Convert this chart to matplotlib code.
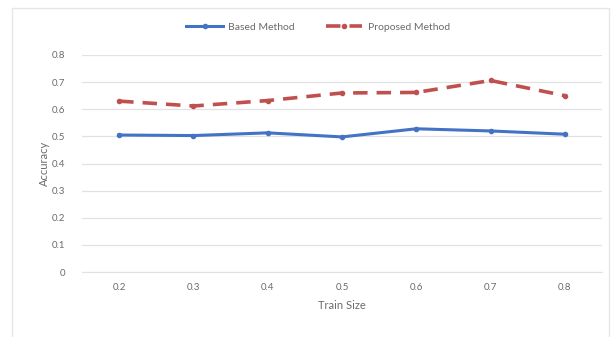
import matplotlib
matplotlib.use("Agg")
import matplotlib.pyplot as plt
from matplotlib.patches import Rectangle

plt.rcParams['font.family'] = ['Lato', 'DejaVu Sans']

train_sizes = ["0.2", "0.3", "0.4", "0.5", "0.6", "0.7", "0.8"]
based_method = [0.505, 0.503, 0.513, 0.498, 0.528, 0.520, 0.508]
proposed_method = [0.630, 0.612, 0.632, 0.660, 0.662, 0.706, 0.650]
y_ticks = [0, 0.1, 0.2, 0.3, 0.4, 0.5, 0.6, 0.7, 0.8]
y_tick_labels = ["0", "0.1", "0.2", "0.3", "0.4", "0.5", "0.6", "0.7", "0.8"]

text_color = "#6b6b6b"
grid_color = "#e2e2e2"

fig = plt.figure(figsize=(6.15, 3.37), dpi=100)
fig.patch.set_facecolor("white")

# light chart-area border
fig.patches.append(Rectangle((12 / 615, -0.05), (609 - 12) / 615, 1 - 8 / 337 + 0.05,
                             transform=fig.transFigure, fill=False,
                             edgecolor="#e6e6e6", linewidth=1.0))

ax = fig.add_axes([82 / 615, 1 - 272 / 337, (602 - 82) / 615, (272 - 55) / 337])
x = list(range(len(train_sizes)))

ax.plot(x, based_method, color="#4472c4", linewidth=2.2, marker="o",
        markersize=3, label="Based Method", zorder=3)
ax.plot(x, proposed_method, color="#c0504d", linewidth=2.6, linestyle=(0, (4, 2.5)),
        marker="o", markersize=3, label="Proposed Method", zorder=3)

ax.set_xlim(-0.5, len(train_sizes) - 0.5)
ax.set_ylim(0, 0.8)
ax.set_xticks(x)
ax.set_xticklabels(train_sizes)
ax.set_yticks(y_ticks)
ax.set_yticklabels(y_tick_labels)
ax.yaxis.grid(True, color=grid_color, linewidth=0.9)
ax.set_axisbelow(True)
for side in ["top", "right", "left"]:
    ax.spines[side].set_visible(False)
ax.spines["bottom"].set_color(grid_color)
ax.tick_params(axis="both", length=0, labelsize=7, colors=text_color, pad=8)
ax.tick_params(axis="y", pad=12)

ax.set_xlabel("Train Size", fontsize=8, color=text_color, labelpad=6)
ax.set_ylabel("Accuracy", fontsize=8, color=text_color, labelpad=1)

fig.legend(loc="center", bbox_to_anchor=(318 / 615, 1 - 27 / 337), ncol=2,
           frameon=False, fontsize=7.5, labelcolor=text_color,
           handlelength=3.5, columnspacing=3.0, handletextpad=0.5)

fig.savefig("out.png", dpi=100, facecolor="white")
